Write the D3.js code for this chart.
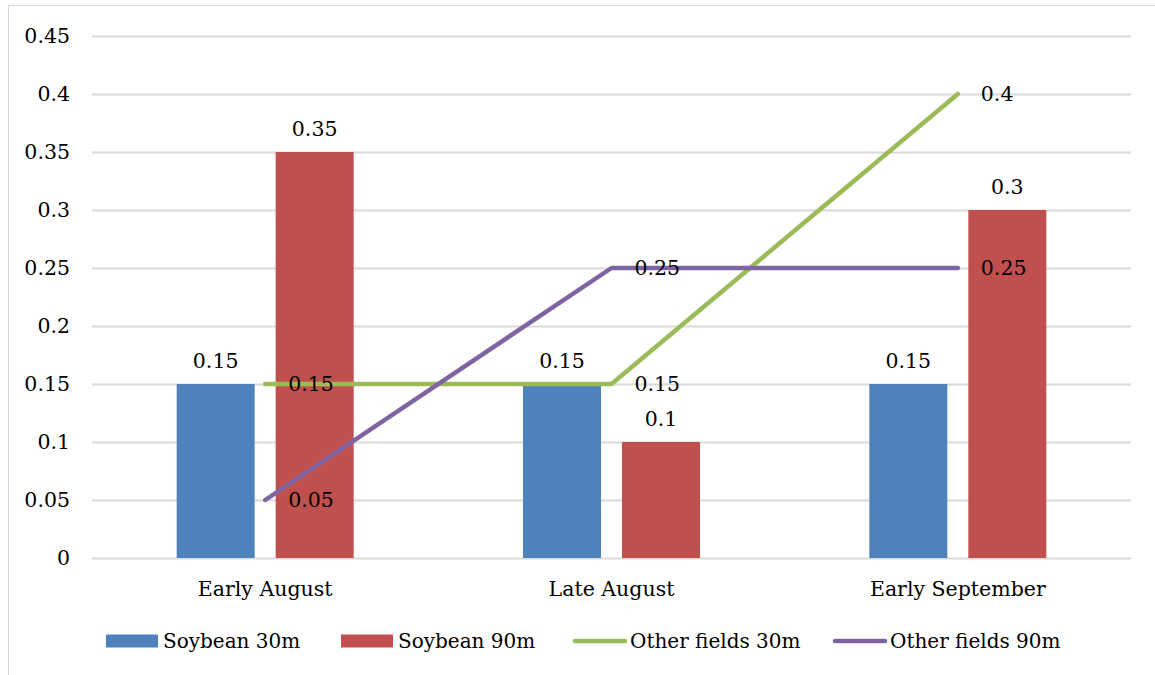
<!DOCTYPE html>
<html>
<head>
<meta charset="utf-8">
<script src="https://cdn.jsdelivr.net/npm/d3@7"></script>
<style>
  html, body { margin: 0; padding: 0; background: #fff; }
  svg { display: block; }
  text { font-family: "DejaVu Serif", serif; fill: #000; }
</style>
</head>
<body>
<svg id="chart" width="1155" height="675"></svg>
<script>
const categories = ["Early August", "Late August", "Early September"];
const soybean30 = [0.15, 0.15, 0.15];
const soybean90 = [0.35, 0.1, 0.3];
const other30 = [0.15, 0.15, 0.4];
const other90 = [0.05, 0.25, 0.25];
const yTicks = [0, 0.05, 0.1, 0.15, 0.2, 0.25, 0.3, 0.35, 0.4, 0.45];

const barSeries = [
  { name: "Soybean 30m", values: soybean30, color: "#4F81BD" },
  { name: "Soybean 90m", values: soybean90, color: "#C0504D" }
];
const lineSeries = [
  { name: "Other fields 30m", values: other30, color: "#9BBB59" },
  { name: "Other fields 90m", values: other90, color: "#8064A2" }
];

const svg = d3.select("#chart");
const fontSize = 20.5;
const legendFontSize = 20;

// outer frame
svg.append("rect")
  .attr("x", 8.5).attr("y", 5.5)
  .attr("width", 1160).attr("height", 700)
  .attr("fill", "none").attr("stroke", "#d9d9d9").attr("stroke-width", 1);

const plot = { left: 92, right: 1131, top: 36, bottom: 558 };

const x = d3.scaleBand().domain(categories).range([plot.left, plot.right]);
const y = d3.scaleLinear().domain([0, 0.45]).range([plot.bottom, plot.top]);

// two bars per category, separated by a small gap, centred on the band
const barW = 78, barGap = 21;
const xBar = d3.scaleBand()
  .domain(barSeries.map(s => s.name))
  .range([-(barW + barGap / 2), barW + barGap / 2])
  .paddingInner(barGap / (barW + barGap));

// gridlines
svg.append("g").selectAll("line").data(yTicks).join("line")
  .attr("x1", plot.left).attr("x2", plot.right)
  .attr("y1", d => Math.round(y(d)) + 0.5).attr("y2", d => Math.round(y(d)) + 0.5)
  .attr("stroke", "#d9d9d9").attr("stroke-width", 2);

// y axis labels
const yAxis = d3.axisLeft(y).tickValues(yTicks).tickSize(0).tickPadding(0)
  .tickFormat(d => String(+d.toFixed(2)));
const yg = svg.append("g").attr("transform", `translate(70,0)`).call(yAxis);
yg.select(".domain").remove();
yg.selectAll("text").attr("font-size", fontSize).attr("font-family", "DejaVu Serif").attr("fill", "#000");

// x axis labels
const xAxis = d3.axisBottom(x).tickSize(0).tickPadding(0);
const xg = svg.append("g").attr("transform", `translate(0,${plot.bottom + 23})`).call(xAxis);
xg.select(".domain").remove();
xg.selectAll("text").attr("font-size", fontSize).attr("font-family", "DejaVu Serif").attr("fill", "#000");

// bars with value labels on top
barSeries.forEach(s => {
  const g = svg.append("g");
  g.selectAll("rect").data(categories).join("rect")
    .attr("x", (c) => x(c) + x.bandwidth() / 2 + xBar(s.name))
    .attr("y", (c, i) => y(s.values[i]))
    .attr("width", xBar.bandwidth())
    .attr("height", (c, i) => y(0) - y(s.values[i]))
    .attr("fill", s.color);
  g.selectAll("text").data(categories).join("text")
    .attr("x", (c) => x(c) + x.bandwidth() / 2 + xBar(s.name) + xBar.bandwidth() / 2)
    .attr("y", (c, i) => y(s.values[i]) - 16)
    .attr("text-anchor", "middle")
    .attr("font-size", fontSize)
    .text((c, i) => s.values[i]);
});

// lines through the category centres
const cx = c => x(c) + x.bandwidth() / 2;
lineSeries.forEach(s => {
  const line = d3.line().x((d, i) => cx(categories[i])).y(d => y(d));
  svg.append("path")
    .datum(s.values)
    .attr("d", line)
    .attr("fill", "none")
    .attr("stroke", s.color)
    .attr("stroke-width", 4.5)
    .attr("stroke-linecap", "round")
    .attr("stroke-linejoin", "round");
});
lineSeries.forEach(s => {
  svg.append("g").selectAll("text").data(s.values).join("text")
    .attr("x", (d, i) => cx(categories[i]) + 23)
    .attr("y", d => y(d))
    .attr("dy", "0.35em")
    .attr("font-size", fontSize)
    .text(d => d);
});

// legend
const legendY = 641;
const legendItems = [
  { s: barSeries[0], type: "bar", x: 106 },
  { s: barSeries[1], type: "bar", x: 341 },
  { s: lineSeries[0], type: "line", x: 573 },
  { s: lineSeries[1], type: "line", x: 833 }
];
const lg = svg.append("g");
legendItems.forEach(it => {
  if (it.type === "bar") {
    lg.append("rect").attr("x", it.x).attr("y", legendY - 6.5)
      .attr("width", 52).attr("height", 13).attr("fill", it.s.color);
  } else {
    lg.append("line").attr("x1", it.x + 2).attr("x2", it.x + 52)
      .attr("y1", legendY).attr("y2", legendY)
      .attr("stroke", it.s.color).attr("stroke-width", 4.5).attr("stroke-linecap", "round");
  }
  lg.append("text").attr("x", it.x + 57).attr("y", legendY).attr("dy", "0.35em")
    .attr("font-size", legendFontSize).text(it.s.name);
});
</script>
</body>
</html>
